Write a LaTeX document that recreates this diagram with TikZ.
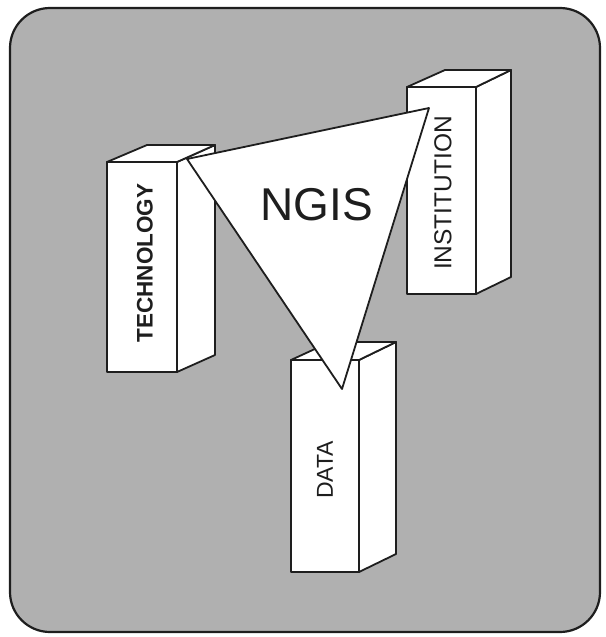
\documentclass[tikz,border=0pt]{standalone}
\usepackage{fontspec}
\newfontfamily\labelfont{Liberation Sans}
\definecolor{panelgray}{RGB}{176,176,176}
\definecolor{ink}{RGB}{30,30,30}
\tikzset{
  face/.style={draw=ink, line width=1.8pt, fill=white, line join=round},
  frontface/.style={face, rectangle, inner sep=0pt, outer sep=0pt},
  pillartext/.style={rotate=90, text=ink, inner sep=0pt},
}
\begin{document}
\begin{tikzpicture}[x=1pt, y=-1pt]
\useasboundingbox (0,0) rectangle (605,637);

% rounded panel
\draw[draw=ink, line width=2.2pt, fill=panelgray, rounded corners=40pt] (10,8) rectangle (600,632);

% TECHNOLOGY pillar
\node[frontface, minimum width=70pt, minimum height=210pt] (techF) at (142,267) {};
\filldraw[face] (techF.north east) -- ++(38,-17) -- ++(0,210) -- (techF.south east) -- cycle;
\filldraw[face] (techF.north west) -- ++(40,-17) -- ++(68,0) -- (techF.north east) -- cycle;
\node[pillartext, font=\labelfont\bfseries\fontsize{22.5}{22.5}\selectfont] (techT) at (145,263) {TECHNOLOGY};

% INSTITUTION pillar
\node[frontface, minimum width=69pt, minimum height=207pt] (instF) at (441.5,190.5) {};
\filldraw[face] (instF.north east) -- ++(35,-17) -- ++(0,207) -- (instF.south east) -- cycle;
\filldraw[face] (instF.north west) -- ++(38,-17) -- ++(66,0) -- (instF.north east) -- cycle;
\node[pillartext, font=\labelfont\fontsize{24.5}{24.5}\selectfont] (instT) at (443,193) {INSTITUTION};

% DATA pillar
\node[frontface, minimum width=68pt, minimum height=212pt] (dataF) at (325,466) {};
\filldraw[face] (dataF.north east) -- ++(37,-18) -- ++(0,212) -- (dataF.south east) -- cycle;
\filldraw[face] (dataF.north west) -- ++(39,-18) -- ++(66,0) -- (dataF.north east) -- cycle;
\node[pillartext, font=\labelfont\fontsize{23}{23}\selectfont] (dataT) at (325,470) {DATA};

% NGIS triangle linking the pillars
\coordinate (triL) at (187,159);
\coordinate (triR) at (429,108);
\coordinate (triB) at (342,389);
\filldraw[face] (triL) -- (triR) -- (triB) -- cycle;
\node[text=ink, inner sep=0pt, font=\labelfont\fontsize{46}{46}\selectfont] (ngis) at (317,205) {NGIS};
\end{tikzpicture}
\end{document}
